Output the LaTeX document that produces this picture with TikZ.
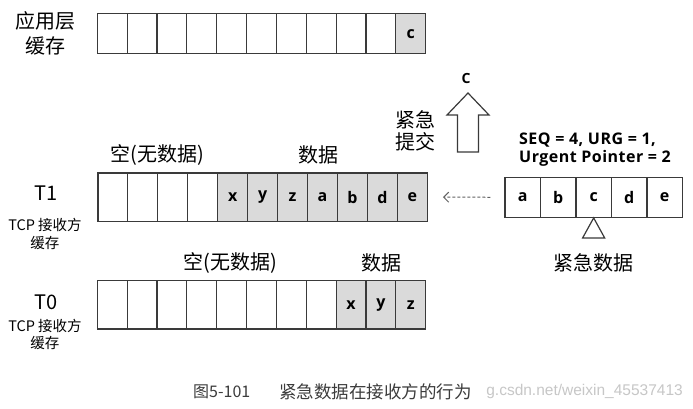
\documentclass[tikz,border=0pt]{standalone}
\usepackage{fontspec}
\setmainfont{Noto Sans CJK SC}
\newfontfamily\lat{Open Sans}
\newfontfamily\latw[LetterSpace=3]{Open Sans}
\newfontfamily\wm{Liberation Sans}
\usetikzlibrary{arrows.meta}
\definecolor{edge}{HTML}{3A3A3A}
\definecolor{cellgray}{HTML}{DADADA}
\definecolor{captxt}{HTML}{3C3C3C}
\begin{document}
\begin{tikzpicture}[x=1pt,y=-1pt,
  wcell/.style={draw=edge, line width=1.2pt, fill=white, inner sep=0pt, anchor=north west,
    font=\lat\bfseries\fontsize{16}{16}\selectfont},
  gcell/.style={wcell, fill=cellgray},
  lbl/.style={inner sep=0pt, font=\fontsize{20}{20}\selectfont},
  small/.style={inner sep=0pt, font=\fontsize{14.5}{14.5}\selectfont},
  boldlat/.style={inner sep=0pt, font=\latw\bfseries\fontsize{16}{16}\selectfont},
  outl/.style={draw=edge, line width=1.2pt}
]
\useasboundingbox (0,0) rectangle (693,409);
\fill[white] (0,0) rectangle (693,409);

% application buffer
\foreach \i in {1,...,10}
  \node[wcell, minimum width=29.85pt, minimum height=40pt] (u\i) at ({96.7+29.85*(\i-1)},13.3) {};
\node[gcell, minimum width=29.85pt, minimum height=40pt] (u11) at ({96.7+29.85*10},13.3) {c};
\node[lbl] (appl1) at (45,21) {应用层};
\node[lbl] (appl2) at (45,46) {缓存};

% T1 buffer
\foreach \i in {1,...,4}
  \node[wcell, minimum width=29.95pt, minimum height=48.4pt] (s\i) at ({97.3+29.95*(\i-1)},172.3) {};
\foreach \t [count=\j from 5] in {x,y,z,a,b,d,e}
  \node[gcell, minimum width=29.95pt, minimum height=48.4pt] (s\j) at ({97.3+29.95*(\j-1)},172.3) {\t};
\node[lbl] (t1) at (46,193) {T1};
\node[small] (t1a) at (45,225) {TCP 接收方};
\node[small] (t1b) at (45,243) {缓存};
\node[lbl] (t1e) at (157,155) {空(无数据)};
\node[lbl] (t1d) at (318,155) {数据};

% T0 buffer
\foreach \i in {1,...,8}
  \node[wcell, minimum width=29.85pt, minimum height=48.3pt] (r\i) at ({96.7+29.85*(\i-1)},280) {};
\foreach \t [count=\j from 9] in {x,y,z}
  \node[gcell, minimum width=29.85pt, minimum height=48.3pt] (r\j) at ({96.7+29.85*(\j-1)},280) {\t};
\node[lbl] (t0) at (46,302) {T0};
\node[small] (t0a) at (45,326) {TCP 接收方};
\node[small] (t0b) at (45,343) {缓存};
\node[lbl] (t0e) at (230,263) {空(无数据)};
\node[lbl] (t0d) at (381,263) {数据};

% incoming segment
\foreach \t [count=\j] in {a,b,c,d,e}
  \node[wcell, minimum width=35.5pt, minimum height=40pt] (p\j) at ({504.3+35.5*(\j-1)},176.7) {\t};
\node[boldlat, anchor=west] (seq1) at (519,140) {SEQ = 4, URG = 1,};
\node[boldlat, anchor=west] (seq2) at (519,158.5) {Urgent Pointer = 2};
\draw[outl, fill=white] (p3.south) -- ++(-11,20) -- ++(22,0) -- cycle;
\node[lbl] (urg) at (593,263) {紧急数据};

% dashed arrow
\draw[draw=edge!80, line width=1pt, dash pattern=on 3pt off 2pt, shorten <=14pt, shorten >=15pt,
  -{Straight Barb[length=5pt,width=10pt]}] (p1.west) -- (s11.east);

% big hollow arrow
\draw[outl, line join=miter] (468,93) -- (489,115) -- (478.5,115) -- (478.5,152) -- (457.5,152)
  -- (457.5,115) -- (447,115) -- cycle;
\node[inner sep=0pt, font=\lat\bfseries\fontsize{14}{14}\selectfont] (cc) at (466,79) {C};
\node[lbl] (sub1) at (415,120) {紧急};
\node[lbl] (sub2) at (415,142) {提交};

% caption and watermark
\node[inner sep=0pt, anchor=east, text=black!22, font=\wm\fontsize{15.5}{15.5}\selectfont] (wmk) at (683,391) {g.csdn.net/weixin\_45537413};
\node[inner sep=0pt, anchor=west, text=captxt, font=\fontsize{16}{16}\selectfont] (cap1) at (193,392) {图5-101};
\node[inner sep=0pt, anchor=west, text=captxt, font=\fontsize{17.5}{17.5}\selectfont] (cap2) at (279,392) {紧急数据在接收方的行为};
\end{tikzpicture}
\end{document}
